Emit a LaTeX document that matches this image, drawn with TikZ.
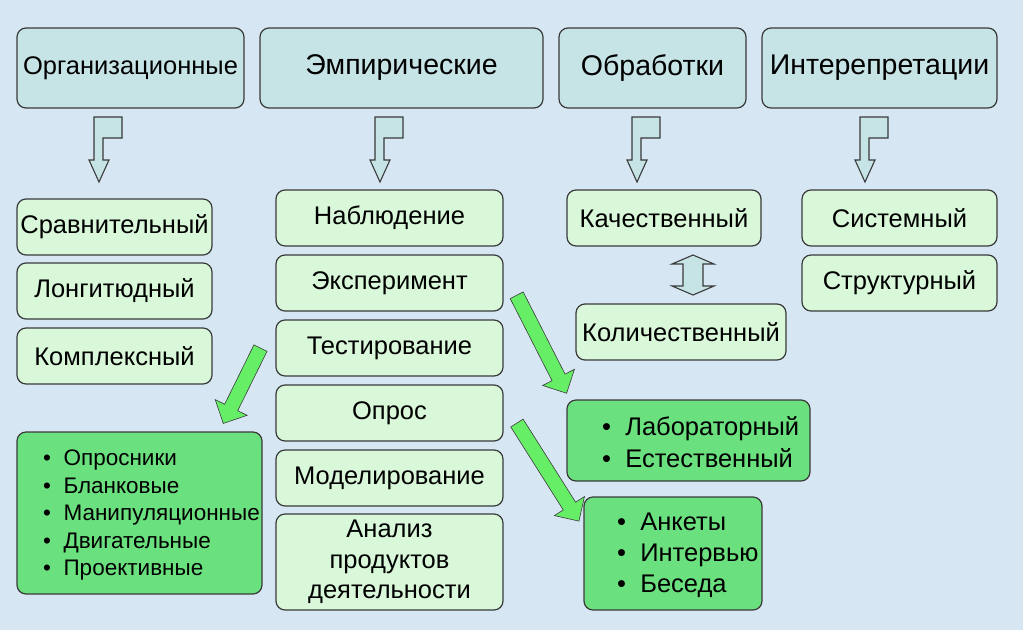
\documentclass[tikz,border=0pt]{standalone}
\usepackage{fontspec}
\setmainfont{Liberation Sans}
\usetikzlibrary{shapes.arrows}
\definecolor{bg}{HTML}{D6E7F3}
\definecolor{topc}{HTML}{C6E3E6}
\definecolor{lgreen}{HTML}{D9F7D9}
\definecolor{dgreen}{HTML}{6BE07E}
\definecolor{agreen}{HTML}{66EE66}
\definecolor{bord}{HTML}{3A3A3A}
\begin{document}
\begin{tikzpicture}[x=1pt,y=-1pt,
  box/.style={draw=bord,line width=1.2pt,rounded corners=9pt,inner sep=0pt,align=center,font=\fontsize{25.5}{30}\selectfont},
  topbox/.style={box,fill=topc,font=\fontsize{28.5}{32}\selectfont},
  lbox/.style={box,fill=lgreen},
  gbox/.style={box,fill=dgreen},
  listtext/.style={anchor=west,align=left,inner sep=0pt},
  hollow/.style={draw=bord,line width=1.1pt,fill=topc},
  garrow/.style={single arrow,fill=agreen,draw=bord,line width=0.6pt,minimum width=0pt,single arrow head extend=10.5pt,inner sep=7pt,single arrow head indent=0pt}]
\fill[bg] (0,0) rectangle (1023,630);
\useasboundingbox (0,0) rectangle (1023,630);
% top row
\node[topbox,minimum width=227,minimum height=80,font=\fontsize{25.5}{30}\selectfont] (org) at (130.5,68) {Организационные};
\node[topbox,minimum width=283,minimum height=80] (emp) at (401.5,68) {Эмпирические};
\node[topbox,minimum width=187,minimum height=80] (obr) at (652.5,68) {Обработки};
\node[topbox,minimum width=235,minimum height=80] (int) at (879.5,68) {Интерепретации};
% hollow arrows
\foreach \s in {0,281,538,766}{
  \draw[hollow] (94+\s,117) -- (122+\s,117) -- (122+\s,138) -- (103+\s,138) -- (103+\s,160) -- (109+\s,160) -- (99+\s,182) -- (89+\s,160) -- (94+\s,160) -- cycle;
}
% column 1
\node[lbox,minimum width=195,minimum height=56] (srav) at (114.5,227) {Сравнительный};
\node[lbox,minimum width=195,minimum height=56] (long) at (114.5,291) {Лонгитюдный};
\node[lbox,minimum width=195,minimum height=56] (kompl) at (114.5,356) {Комплексный};
\node[gbox,minimum width=245,minimum height=162] (list1) at (139.5,513) {};
\node[listtext,font=\fontsize{22.5}{27.5}\selectfont] (list1t) at (43,515) {•\ \ Опросники\\•\ \ Бланковые\\•\ \ Манипуляционные\\•\ \ Двигательные\\•\ \ Проективные};
% column 2
\node[lbox,minimum width=227,minimum height=56] (nabl) at (389.5,218) {Наблюдение};
\node[lbox,minimum width=227,minimum height=56] (eksp) at (389.5,283) {Эксперимент};
\node[lbox,minimum width=227,minimum height=56] (test) at (389.5,348) {Тестирование};
\node[lbox,minimum width=227,minimum height=56] (opros) at (389.5,413) {Опрос};
\node[lbox,minimum width=227,minimum height=56] (model) at (389.5,478) {Моделирование};
\node[lbox,minimum width=227,minimum height=96,font=\fontsize{25.5}{30.5}\selectfont] (anal) at (389.5,562) {Анализ\\продуктов\\деятельности};
% column 3
\node[lbox,minimum width=194,minimum height=56] (kach) at (664,218) {Качественный};
\node[lbox,minimum width=210,minimum height=56] (kol) at (681,332) {Количественный};
\node[gbox,minimum width=243,minimum height=81] (lab) at (688.5,440.5) {};
\node[listtext,font=\fontsize{25.5}{32}\selectfont] (labt) at (602,442) {•\ \ Лабораторный\\•\ \ Естественный};
\node[gbox,minimum width=178,minimum height=113] (ank) at (673,553.5) {};
\node[listtext,font=\fontsize{25.5}{31}\selectfont] (ankt) at (617,555) {•\ \ Анкеты\\•\ \ Интервью\\•\ \ Беседа};
% column 4
\node[lbox,minimum width=195,minimum height=56] (sist) at (899.5,218) {Системный};
\node[lbox,minimum width=195,minimum height=56] (strukt) at (899.5,283) {Структурный};
% double arrow
\draw[hollow] (693,255) -- (714,264) -- (703,264) -- (703,286) -- (714,286) -- (693,295) -- (672,286) -- (683,286) -- (683,264) -- (672,264) -- cycle;
% green arrows
\node[garrow,minimum height=84,rotate=243.7] (g1) at (243.5,382.5) {};
\node[garrow,minimum height=110,rotate=-63] (g2) at (540,341) {};
\node[garrow,minimum height=116,rotate=-57.7] (g3) at (546,469) {};
\end{tikzpicture}
\end{document}
